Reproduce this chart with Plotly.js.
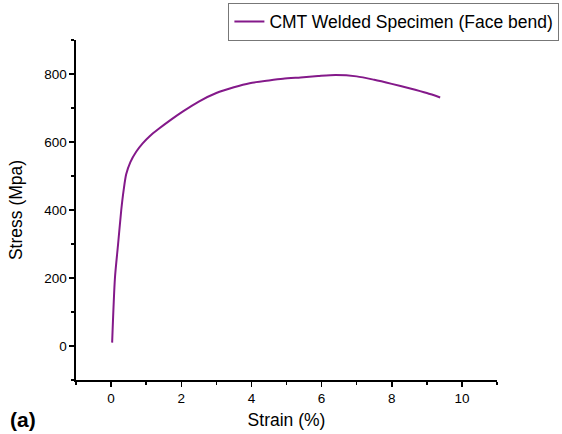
<!DOCTYPE html>
<html>
<head>
<meta charset="utf-8">
<script src="https://cdn.plot.ly/plotly-3.0.1.min.js"></script>
<style>html,body{margin:0;padding:0;background:#fff;}#chart{width:562px;height:434px;}</style>
</head>
<body>
<div id="chart"></div>
<script>
const seriesName = "CMT Welded Specimen (Face bend)";
const strain = [0.03, 0.11, 0.20, 0.29, 0.36, 0.43, 0.55, 0.72, 0.9, 1.1, 1.35, 1.7, 2.05, 2.5, 3.0, 3.5, 3.95, 4.5, 4.9, 5.4, 5.9, 6.4, 7.0, 7.5, 8.0, 8.5, 9.0, 9.38];
const stress = [10, 200, 300, 400, 460, 505, 541, 572, 596, 617, 638, 665, 690, 719, 744, 761, 773, 781, 786, 790, 794, 797, 793, 783, 771, 758, 744, 731];
const xTickVals = [0, 2, 4, 6, 8, 10];
const yTickVals = [0, 200, 400, 600, 800];
const xTitle = "Strain (%)";
const yTitle = "Stress (Mpa)";
const panelLabel = "(a)";

const trace = {
  x: strain, y: stress, type: 'scatter', mode: 'lines', name: seriesName,
  line: {color: '#84198a', width: 2, shape: 'spline', smoothing: 0.7}
};
const fam = 'Arial, Liberation Sans, sans-serif';
const axFont = {family: fam, size: 13.5, color: '#000'};
const layout = {
  width: 562, height: 434,
  margin: {l: 75.5, r: 65, t: 40, b: 54, autoexpand: false},
  paper_bgcolor: '#fff', plot_bgcolor: '#fff',
  font: {family: fam, color: '#000'},
  showlegend: true,
  legend: {
    x: 0.362, y: 1.11, xanchor: 'left', yanchor: 'top',
    bordercolor: '#777', borderwidth: 1, bgcolor: '#fff',
    font: {family: fam, size: 17.5, color: '#000'},
    itemwidth: 30, tracegroupgap: 0
  },
  xaxis: {
    range: [-1, 11], tickvals: xTickVals, ticktext: xTickVals.map(String),
    showline: true, linecolor: '#000', linewidth: 1.6, mirror: false,
    ticks: 'outside', ticklen: 5, tickwidth: 1.5, tickcolor: '#000',
    showgrid: false, zeroline: false, tickfont: axFont, automargin: false,
    minor: {dtick: 1, tick0: 0, ticks: 'outside', ticklen: 3, tickwidth: 1.5, tickcolor: '#000', showgrid: false},
    title: {text: xTitle, font: {family: fam, size: 17.5, color: '#000'}, standoff: 9}
  },
  yaxis: {
    range: [-100, 900], tickvals: yTickVals, ticktext: yTickVals.map(String),
    showline: true, linecolor: '#000', linewidth: 1.6, mirror: false,
    ticks: 'outside', ticklen: 5, tickwidth: 1.5, tickcolor: '#000',
    showgrid: false, zeroline: false, tickfont: axFont, automargin: false,
    minor: {dtick: 100, tick0: 0, ticks: 'outside', ticklen: 3, tickwidth: 1.5, tickcolor: '#000', showgrid: false},
    title: {text: yTitle, font: {family: fam, size: 17.5, color: '#000'}, standoff: 17}
  },
  annotations: [{
    text: '<b>' + panelLabel + '</b>', xref: 'paper', yref: 'paper',
    x: -0.162, y: -0.115, xanchor: 'left', yanchor: 'middle', showarrow: false,
    font: {family: fam, size: 21, color: '#000'}
  }]
};
Plotly.newPlot('chart', [trace], layout, {staticPlot: true, displayModeBar: false});
</script>
</body>
</html>
